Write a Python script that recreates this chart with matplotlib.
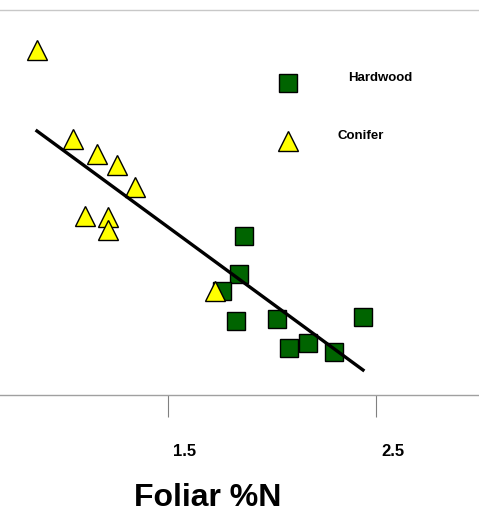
import matplotlib
matplotlib.use("Agg")
import matplotlib.pyplot as plt
import matplotlib.transforms as mtransforms

plt.rcParams["font.family"] = ["Liberation Sans", "DejaVu Sans"]

# foliar %N vs (unlabelled) response
conifer_n = [0.870, 1.043, 1.159, 1.255, 1.341, 1.101, 1.212, 1.212, 1.726]
conifer_y = [3.45, 2.56, 2.405, 2.30, 2.08, 1.79, 1.775, 1.65, 1.045]
hardwood_n = [1.865, 1.841, 1.760, 1.827, 2.024, 2.4375, 2.082, 2.173, 2.298]
hardwood_y = [1.59, 1.21, 1.04, 0.74, 0.76, 0.78, 0.47, 0.52, 0.43]
# regression line end points
fit_n = [0.870, 2.4375]
fit_y = [2.64, 0.25]
xticks = [1.5, 2.5]
xticklabels = ["1.5", "2.5"]

fig = plt.figure(figsize=(4.79, 5.12), dpi=100)
ax = fig.add_axes([0.0, 0.2285, 1.0, 0.752])

ax.plot(hardwood_n, hardwood_y, "s", ms=12.5, mfc="#006400", mec="black", mew=1.0, zorder=3)
ax.plot(conifer_n, conifer_y, "^", ms=14.5, mfc="#ffff00", mec="black", mew=1.0, zorder=4)
ax.plot(fit_n, fit_y, color="black", lw=2.4, zorder=5)

ax.set_xlim(0.6923, 2.9952)
ax.set_ylim(0, 3.85)

for s in ("left", "right"):
    ax.spines[s].set_visible(False)
ax.spines["top"].set_color("#c8c8c8")
ax.spines["bottom"].set_color("#a0a0a0")
ax.spines["top"].set_linewidth(1.0)
ax.spines["bottom"].set_linewidth(1.0)
ax.set_yticks([])
ax.set_xticks(xticks)
ax.set_xticklabels(xticklabels, fontsize=12, fontweight="bold")
ax.tick_params(axis="x", direction="out", length=15.5, width=0.8, color="#808080", pad=19.5)
offset = mtransforms.ScaledTranslation(17 / 100, 0, fig.dpi_scale_trans)
for lab in ax.get_xticklabels():
    lab.set_transform(lab.get_transform() + offset)

fig.text(0.434, 0.028, "Foliar %N", fontsize=23, fontweight="bold", ha="center", va="center")

# legend drawn by hand
ax.plot([0.601], [0.810], "s", ms=12.5, mfc="#006400", mec="black", mew=1.0,
        transform=ax.transAxes, clip_on=False)
ax.plot([0.601], [0.660], "^", ms=14.5, mfc="#ffff00", mec="black", mew=1.0,
        transform=ax.transAxes, clip_on=False)
ax.text(0.794, 0.824, "Hardwood", fontsize=9.5, fontweight="bold", ha="center", va="center",
        transform=ax.transAxes)
ax.text(0.752, 0.673, "Conifer", fontsize=9.5, fontweight="bold", ha="center", va="center",
        transform=ax.transAxes)

fig.savefig("out.png", dpi=100)
